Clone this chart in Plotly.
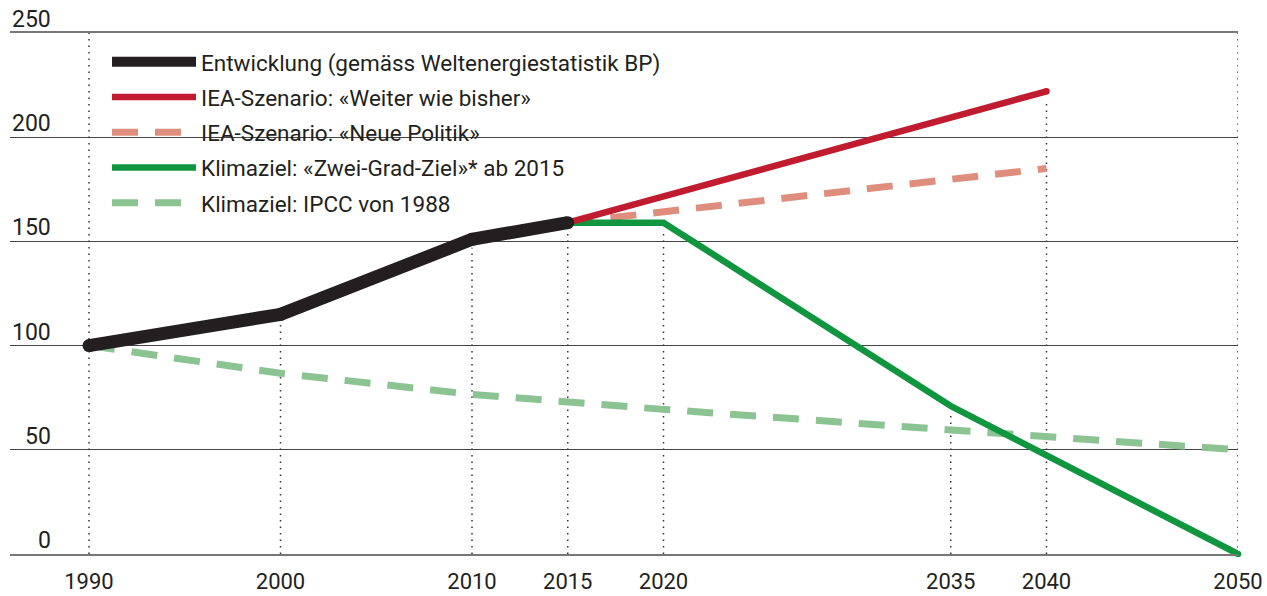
import plotly.graph_objects as go

# ---- data ----
years_dev = [1990, 2000, 2010, 2015]
dev = [100, 115, 151, 159]

years_iea = [2015, 2040]
iea_weiter = [159, 222]
iea_neue = [159, 185]

years_2grad = [2015, 2020, 2035, 2050]
zwei_grad = [159, 159, 71, 0]

years_ipcc = [1990, 2000, 2010, 2015, 2020, 2035, 2040, 2050]
ipcc = [100, 86.7, 76.6, 73, 69.4, 59.5, 56.5, 50]

tick_years = [1990, 2000, 2010, 2015, 2020, 2035, 2040, 2050]
tick_labels = [str(y) for y in tick_years]
y_ticks = [0, 50, 100, 150, 200, 250]
y_labels = ["0", "50", "100", "150", "200", "250"]

names = [
    "Entwicklung (gemäss Weltenergiestatistik BP)",
    "IEA-Szenario: «Weiter wie bisher»",
    "IEA-Szenario: «Neue Politik»",
    "Klimaziel: «Zwei-Grad-Ziel»* ab 2015",
    "Klimaziel: IPCC von 1988",
]

C_BLACK = "#231f20"
C_RED = "#c11b30"
C_SALMON = "#df8e7d"
C_GREEN = "#119640"
C_LGREEN = "#8bc392"
FONT = "Roboto"
TXT = "#231f20"

Y_MAX = 250
X_MIN = 1985.875
X_MAX = 2050

fig = go.Figure()

# white band behind the legend text (hides the 200 gridline there)
fig.add_shape(type="rect", xref="x", yref="y", x0=1990.1, x1=2012.55, y0=196, y1=204,
              fillcolor="white", line_width=0, layer="below")

# dotted drop lines
series = [(years_dev, dev), (years_iea, iea_weiter), (years_iea, iea_neue),
          (years_2grad, zwei_grad), (years_ipcc, ipcc)]
for i, yr in enumerate(tick_years):
    vals = [v for xs, ys in series for x, v in zip(xs, ys) if x == yr]
    top = Y_MAX if i in (0, len(tick_years) - 1) else max(vals) - 4
    fig.add_trace(go.Scatter(x=[yr, yr], y=[0, top], mode="lines",
                             line=dict(color="#333333", width=1.5, dash="1.5px,5px"),
                             showlegend=False, hoverinfo="skip"))

fig.add_trace(go.Scatter(x=years_ipcc, y=ipcc, mode="lines", name=names[4], legendgroup="e",
                         legendrank=5,
                         line=dict(color=C_LGREEN, width=7, dash="26px,17px"), cliponaxis=False))
fig.add_trace(go.Scatter(x=years_iea, y=iea_neue, mode="lines", name=names[2], legendgroup="c",
                         legendrank=3,
                         line=dict(color=C_SALMON, width=7, dash="26px,17px"), cliponaxis=False))
fig.add_trace(go.Scatter(x=years_2grad, y=zwei_grad, mode="lines", name=names[3], legendgroup="d",
                         legendrank=4,
                         line=dict(color=C_GREEN, width=6.5), cliponaxis=False))
fig.add_trace(go.Scatter(x=years_iea, y=iea_weiter, mode="lines", name=names[1], legendgroup="b",
                         legendrank=2,
                         line=dict(color=C_RED, width=6.5), cliponaxis=False))
fig.add_trace(go.Scatter(x=[years_iea[-1]], y=[iea_weiter[-1]], mode="markers", showlegend=False,
                         marker=dict(color=C_RED, size=6.5), cliponaxis=False, hoverinfo="skip"))
fig.add_trace(go.Scatter(x=[years_2grad[-1]], y=[zwei_grad[-1]], mode="markers", showlegend=False,
                         marker=dict(color=C_GREEN, size=6.5), cliponaxis=False, hoverinfo="skip"))
fig.add_trace(go.Scatter(x=years_dev, y=dev, mode="lines", name=names[0], legendgroup="a",
                         legendrank=1,
                         line=dict(color=C_BLACK, width=13), cliponaxis=False))
fig.add_trace(go.Scatter(x=years_dev, y=dev, mode="markers", showlegend=False,
                         marker=dict(color=C_BLACK, size=13), cliponaxis=False, hoverinfo="skip"))

for v, t in zip(y_ticks, y_labels):
    fig.add_annotation(x=1988.1, y=v, xref="x", yref="y", text=t, showarrow=False,
                       xanchor="right", yanchor="bottom", yshift=-2,
                       font=dict(family=FONT, size=23, color=TXT))

fig.update_layout(
    width=1267, height=596,
    margin=dict(l=10, r=29, t=33, b=42),
    paper_bgcolor="white", plot_bgcolor="white",
    showlegend=True,
    legend=dict(
        x=0.079, y=0.9854, xanchor="left", yanchor="top",
        bgcolor="rgba(0,0,0,0)", itemwidth=84,
        traceorder="grouped", tracegroupgap=3,
        font=dict(family=FONT, size=22.5, color=TXT),
    ),
    xaxis=dict(
        range=[X_MIN, X_MAX], tickvals=tick_years, ticktext=tick_labels,
        showgrid=False, zeroline=False, showline=True, mirror=True,
        linecolor="#777777", linewidth=2, ticks="", ticklabelstandoff=7,
        automargin=False,
        tickfont=dict(family=FONT, size=22, color=TXT),
    ),
    yaxis=dict(
        range=[0, Y_MAX], tickvals=y_ticks, showticklabels=False, automargin=False,
        showgrid=True, gridcolor="#444444", gridwidth=1, zeroline=False, ticks="",
    ),
)

# remove the default page margin so the figure fills the window exactly
fig.write_html("out.html", config={"displayModeBar": False},
               post_script="document.body.style.margin='0';document.body.style.overflow='hidden';")
